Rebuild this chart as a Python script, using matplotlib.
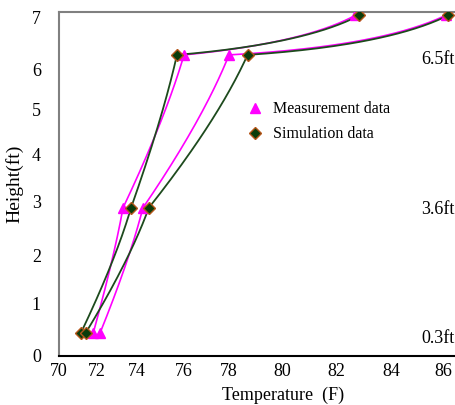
import numpy as np
import matplotlib
matplotlib.use('Agg')
import matplotlib.pyplot as plt

# Data
heights = [0.44, 2.89, 6.29, 7.05]
meas_left = [71.8, 73.3, 76.0, 82.7]
meas_right = [72.15, 74.25, 78.0, 86.1]
sim_left = [71.15, 73.7, 75.7, 82.85]
sim_right = [71.4, 74.5, 78.7, 86.2]

x_ticks = [70, 72, 74, 76, 78, 80, 82, 84, 86]
y_ticks = [0, 1, 2, 3, 4, 5, 6, 7]
band_labels = ['6.5ft', '3.6ft', '0.3ft']

# the reference spaces its tick labels unevenly; follow that with a piecewise scale
x_tick_px = [59, 97, 137, 184, 229, 282, 336, 391, 443]
y_tick_px = [-356, -304, -256, -202, -155, -110, -70, -18]


def piecewise(vals, pix):
    vals = np.asarray(vals, float)
    pix = np.asarray(pix, float)

    def make(a, b):
        def f(v):
            v = np.asarray(v, float)
            out = np.interp(v, a, b)
            lo_slope = (b[1] - b[0]) / (a[1] - a[0])
            hi_slope = (b[-1] - b[-2]) / (a[-1] - a[-2])
            out = np.where(v < a[0], b[0] + (v - a[0]) * lo_slope, out)
            out = np.where(v > a[-1], b[-1] + (v - a[-1]) * hi_slope, out)
            return out
        return f
    return make(vals, pix), make(pix, vals)


fx, ifx = piecewise(x_ticks, x_tick_px)
fy, ify = piecewise(y_ticks, y_tick_px)


def smooth(xs, ys, n=60):
    # quadratic bezier per segment, sagging a little below the chord
    X, Y = fx(xs), fy(ys)
    px, py = [], []
    t = np.linspace(0, 1, n)
    for i in range(len(X) - 1):
        dx, dy = X[i + 1] - X[i], Y[i + 1] - Y[i]
        cx = X[i] + 0.7 * dx
        cy = Y[i] + 0.7 * dy - (0.08 * dy + 0.075 * dx)
        bx = (1 - t) ** 2 * X[i] + 2 * t * (1 - t) * cx + t ** 2 * X[i + 1]
        by = (1 - t) ** 2 * Y[i] + 2 * t * (1 - t) * cy + t ** 2 * Y[i + 1]
        px.extend(bx)
        py.extend(by)
    return ifx(np.array(px)), ify(np.array(py))


plt.rcParams['font.family'] = ['Liberation Serif', 'DejaVu Serif']

fig = plt.figure(figsize=(4.56, 4.05), dpi=100)
ax = fig.add_axes([59 / 456, 1 - 356 / 405, 1 - 59 / 456, (356 - 12) / 405])
ax.set_xscale('function', functions=(fx, ifx))
ax.set_yscale('function', functions=(fy, ify))

magenta = '#ff00ff'
green = '#1d4a1d'

for xs in (meas_left, meas_right):
    sx, sy = smooth(xs, heights)
    ax.plot(sx, sy, color=magenta, lw=1.2, zorder=2)
for xs in (sim_left, sim_right):
    sx, sy = smooth(xs, heights)
    ax.plot(sx, sy, color=green, lw=1.3, zorder=2)

ax.plot(meas_left, heights, ls='none', marker='^', ms=7, color=magenta,
        label='Measurement data', zorder=3)
ax.plot(meas_right, heights, ls='none', marker='^', ms=7, color=magenta, zorder=3)
ax.plot(sim_left, heights, ls='none', marker='D', ms=6.5, mfc='#0b3d0b', mec='#b5561a',
        mew=1, label='Simulation data', zorder=4)
ax.plot(sim_right, heights, ls='none', marker='D', ms=6.5, mfc='#0b3d0b', mec='#b5561a',
        mew=1, zorder=4)

ax.set_xlim(70, 86.5)
ax.set_ylim(0, 7.115)
ax.set_xticks(x_ticks)
ax.set_xticklabels([str(v) for v in x_ticks])
ax.set_yticks(y_ticks)
ax.set_yticklabels([str(v) for v in y_ticks])
ax.minorticks_off()
ax.tick_params(axis='both', length=0, labelsize=13)
ax.tick_params(axis='x', pad=5)
ax.tick_params(axis='y', pad=13)

ax.spines['right'].set_visible(False)
ax.spines['left'].set_color('#808080')
ax.spines['top'].set_color('#808080')
ax.spines['bottom'].set_color('black')
for s in ('left', 'top', 'bottom'):
    ax.spines[s].set_linewidth(1.5)

ax.set_xlabel('Temperature  (F)', fontsize=13)
ax.xaxis.set_label_coords((283 - 59) / 397, -0.09)
ax.set_ylabel('Height(ft)', fontsize=14, labelpad=6)

for lab, ypos in zip(band_labels, [0.862, 0.425, 0.05]):
    ax.text(0.997, ypos, lab, transform=ax.transAxes, ha='right', va='center', fontsize=13)

ax.legend(loc='upper left', bbox_to_anchor=(233 / 456, 1 - 87 / 405),
          bbox_transform=fig.transFigure, frameon=False, fontsize=11.5,
          handlelength=1.0, handletextpad=0.6, labelspacing=0.55)

fig.savefig('out.png', dpi=100)
